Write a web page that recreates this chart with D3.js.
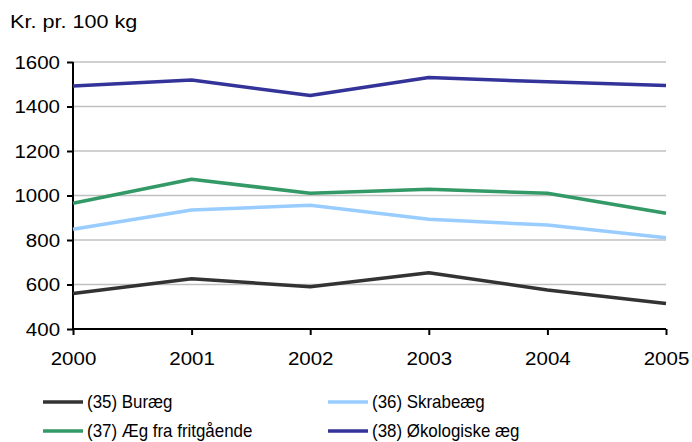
<!DOCTYPE html>
<html>
<head>
<meta charset="utf-8">
<script src="https://cdn.jsdelivr.net/npm/d3@7"></script>
<style>
  body { margin: 0; background: #fff; }
  text { font-family: "Liberation Sans", Arial, sans-serif; fill: #000; }
</style>
</head>
<body>
<div id="chart"></div>
<script>
const years = ["2000", "2001", "2002", "2003", "2004", "2005"];
const yTicks = [400, 600, 800, 1000, 1200, 1400, 1600];

const seriesNames = ["(35) Buræg", "(36) Skrabeæg", "(37) Æg fra fritgående", "(38) Økologiske æg"];
const seriesColors = ["#333333", "#99ccff", "#339966", "#333399"];

const buraeg = [560, 626, 590, 653, 575, 515];
const skrabeaeg = [848, 935, 956, 893, 867, 810];
const fritgaaende = [965, 1073, 1010, 1028, 1010, 920];
const oekologiske = [1492, 1519, 1449, 1530, 1511, 1494];

const allSeries = [buraeg, skrabeaeg, fritgaaende, oekologiske];

const width = 692, height = 442;
const svg = d3.select("#chart").append("svg")
  .attr("width", width).attr("height", height);

const x = d3.scalePoint().domain(years).range([73, 666]);
const y = d3.scaleLinear().domain([400, 1600]).range([329, 62]);

// title (the original is a bit wider than plain Arial, so stretch it)
svg.append("g")
  .attr("transform", "translate(10,28) scale(1.2,1)")
  .append("text")
  .style("font-size", "18px")
  .text("Kr. pr. 100 kg");

// gridlines
svg.append("g")
  .selectAll("line")
  .data(yTicks.filter(d => d > 400))
  .join("line")
  .attr("x1", x.range()[0]).attr("x2", x.range()[1])
  .attr("y1", d => y(d)).attr("y2", d => y(d))
  .attr("stroke", "#c0c0c0")
  .attr("stroke-width", 1.5);

// y axis
const yAxis = svg.append("g")
  .attr("transform", `translate(${x.range()[0]},0)`)
  .call(d3.axisLeft(y).tickValues(yTicks).tickSize(6).tickPadding(6).tickFormat(d3.format("d")));

// x axis
const xAxis = svg.append("g")
  .attr("transform", `translate(0,${y(400)})`)
  .call(d3.axisBottom(x).tickSize(6).tickPadding(17));

[yAxis, xAxis].forEach(ax => {
  ax.select(".domain").attr("stroke", "#000").attr("stroke-width", 2);
  ax.selectAll(".tick line").attr("stroke", "#000").attr("stroke-width", 2);
  ax.selectAll("text")
    .style("font-size", "19px")
    .attr("transform", "scale(1.08,1)");
});
yAxis.select(".domain").attr("d", `M0,${y(1600)}V${y(400)}`);
xAxis.select(".domain").attr("d", `M${x.range()[0]},0H${x.range()[1]}`);

// lines
const line = d3.line()
  .x((d, i) => x(years[i]))
  .y(d => y(d));

svg.append("g")
  .selectAll("path")
  .data(allSeries)
  .join("path")
  .attr("d", line)
  .attr("fill", "none")
  .attr("stroke", (d, i) => seriesColors[i])
  .attr("stroke-width", 3.5)
  .attr("stroke-linejoin", "round");

// legend
const legendPos = [[43, 402], [328, 402], [43, 431], [328, 431]];
const legend = svg.append("g")
  .selectAll("g")
  .data(seriesNames)
  .join("g")
  .attr("transform", (d, i) => `translate(${legendPos[i][0]},${legendPos[i][1]})`);

legend.append("line")
  .attr("x1", 0).attr("x2", 40)
  .attr("stroke", (d, i) => seriesColors[i])
  .attr("stroke-width", 3.5);

// legend text is slightly condensed in the original
legend.append("text")
  .attr("transform", "translate(44,0) scale(0.94,1)")
  .attr("dy", "0.36em")
  .style("font-size", "18px")
  .text(d => d);
</script>
</body>
</html>
